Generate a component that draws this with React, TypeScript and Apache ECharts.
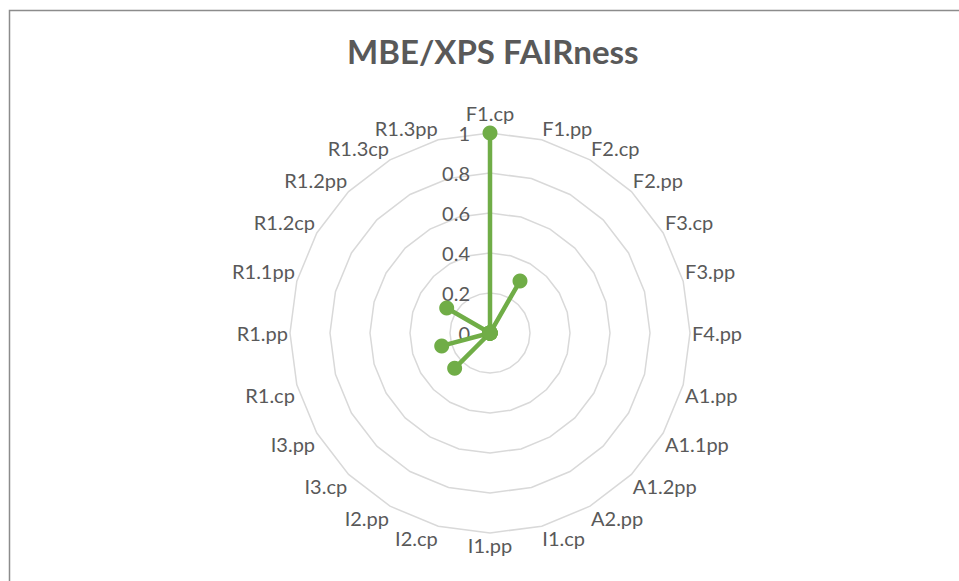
import React, { useEffect, useRef } from "react";
import * as echarts from "echarts";

const categories = [
  "F1.cp", "F1.pp", "F2.cp", "F2.pp", "F3.cp", "F3.pp", "F4.pp",
  "A1.pp", "A1.1pp", "A1.2pp", "A2.pp",
  "I1.cp", "I1.pp", "I2.cp", "I2.pp", "I3.cp", "I3.pp",
  "R1.cp", "R1.pp", "R1.1pp", "R1.2cp", "R1.2pp", "R1.3cp", "R1.3pp",
];
const values = [
  1, 0, 0.3, 0, 0, 0, 0,
  0, 0, 0, 0,
  0, 0, 0, 0, 0.25, 0,
  0.25, 0, 0, 0.25, 0, 0, 0,
];
const titleText = "MBE/XPS FAIRness";
const axisMin = 0;
const axisMax = 1;

export default function App() {
  const ref = useRef<HTMLDivElement>(null);
  useEffect(() => {
    if (!ref.current) return;
    const chart = echarts.init(ref.current, undefined, { renderer: "svg" });
    // ECharts radar goes counter-clockwise; reorder to get clockwise order
    const n = categories.length;
    const order = [0, ...categories.slice(1).map((_, i) => n - 1 - i)];
    const font = "Lato, 'Open Sans', sans-serif";
    const alignFor = (idx: number) => {
      // clockwise angle from top, in degrees
      const deg = (idx * 360) / n;
      const align = deg === 0 || deg === 180 ? "center" : deg < 180 ? "left" : "right";
      const vAlign =
        deg === 90 || deg === 270 ? "middle" : deg > 90 && deg < 270 ? "top" : "bottom";
      return { align, verticalAlign: vAlign };
    };
    chart.setOption({
      animation: false,
      backgroundColor: "#ffffff",
      title: {
        text: titleText,
        left: 342,
        top: 29,
        textStyle: { color: "#595959", fontSize: 33, fontWeight: "bold", fontFamily: font },
      },
      graphic: [
        {
          type: "rect",
          shape: { x: 9.5, y: 10.5, width: 2000, height: 2000 },
          style: { fill: "none", stroke: "#8c8c8c", lineWidth: 1.5 },
          silent: true,
        },
      ],
      radar: {
        center: [490, 333],
        radius: 200,
        startAngle: 90,
        shape: "polygon",
        splitNumber: 5,
        nameGap: 2,
        indicator: order.map((idx, i) => ({
          name: categories[idx],
          min: axisMin,
          max: axisMax,
          nameTextStyle: alignFor(idx),
          ...(i === 0
            ? {
                axisLabel: {
                  show: true,
                  color: "#595959",
                  fontSize: 20,
                  fontFamily: font,
                  margin: 20,
                  showMinLabel: true,
                  showMaxLabel: true,
                },
              }
            : {}),
        })),
        axisName: { color: "#595959", fontSize: 20, fontFamily: font },
        splitLine: { lineStyle: { color: "#d9d9d9", width: 1.5 } },
        splitArea: { show: false },
        axisLine: { show: false },
        axisTick: { show: false },
        axisLabel: { show: false },
      },
      series: [
        {
          type: "radar",
          symbol: "circle",
          symbolSize: 15,
          lineStyle: { color: "#70ad47", width: 4.5 },
          itemStyle: { color: "#70ad47" },
          data: [{ value: order.map((idx) => values[idx]), name: titleText }],
        },
      ],
    });
    return () => chart.dispose();
  }, []);
  return (
    <div
      ref={ref}
      style={{ position: "fixed", left: 0, top: 0, width: 959, height: 581 }}
    />
  );
}
